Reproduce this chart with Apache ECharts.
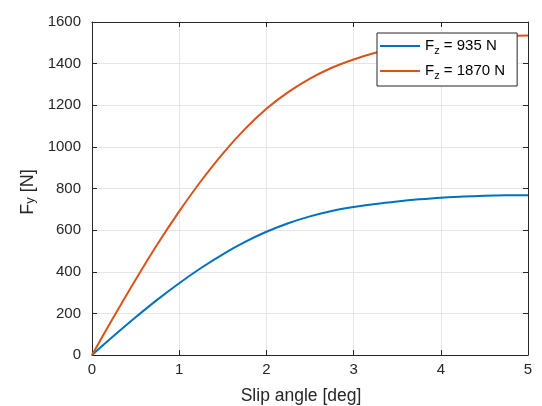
<!DOCTYPE html>
<html>
<head>
<meta charset="utf-8">
<script src="https://cdn.jsdelivr.net/npm/echarts@6/dist/echarts.min.js"></script>
<style>
html,body{margin:0;padding:0;background:#fff;}
#chart{width:542px;height:406px;}
</style>
</head>
<body>
<div id="chart"></div>
<script>
// Slip angle [deg]
var slipAngle = [0, 0.25, 0.5, 0.75, 1.0, 1.25, 1.5, 1.75, 2.0, 2.25, 2.5, 2.75, 3.0, 3.25, 3.5, 3.75, 4.0, 4.25, 4.5, 4.75, 5.0];
// Fy [N] for Fz = 935 N
var fy935 = [0, 92, 181, 266, 345, 418, 484, 542, 592, 633, 666, 692, 711, 726, 738, 748, 756, 761, 765, 767, 768];
// Fy [N] for Fz = 1870 N
var fy1870 = [0, 184, 362, 532, 690, 836, 968, 1084, 1183, 1263, 1328, 1380, 1420, 1452, 1477, 1497, 1512, 1522, 1529, 1533, 1535];
var seriesNames = ['F{sub|z} = 935 N', 'F{sub|z} = 1870 N'];
var xTicks = [0, 1, 2, 3, 4, 5];
var yTicks = [0, 200, 400, 600, 800, 1000, 1200, 1400, 1600];

function pairs(xs, ys) { return xs.map(function (x, i) { return [x, ys[i]]; }); }

var axisColor = '#262626';
var gridColor = '#e5e5e5';
var font = 'Liberation Sans, Arial, Helvetica, sans-serif';

var chart = echarts.init(document.getElementById('chart'), null, {renderer: 'canvas'});

function baseAxis(extra) {
  var a = {
    type: 'value',
    axisLine: {show: true, onZero: false, lineStyle: {color: axisColor, width: 1}},
    axisTick: {show: true, inside: true, length: 5, lineStyle: {color: axisColor, width: 1}},
    splitLine: {show: false},
    axisLabel: {show: false}
  };
  for (var k in extra) a[k] = extra[k];
  return a;
}

var option = {
  animation: false,
  backgroundColor: '#ffffff',
  textStyle: {fontFamily: font},
  grid: {left: 92, right: 14, top: 22, bottom: 51, containLabel: false, outerBoundsMode: 'none'},
  legend: {
    show: true,
    orient: 'vertical',
    left: 377,
    top: 33,
    padding: [3, 12, 5, 3],
    itemGap: 5,
    itemWidth: 40,
    itemHeight: 14,
    backgroundColor: '#ffffff',
    borderColor: axisColor,
    borderWidth: 1,
    borderRadius: 0,
    icon: 'path://M0,0 L40,0 L40,2 L0,2 Z',
    textStyle: {
      fontFamily: font, fontSize: 15, color: '#000000', lineHeight: 20,
      rich: {
        sub: {fontFamily: font, fontSize: 11, color: '#000000', verticalAlign: 'bottom', padding: [9, 0, 0, 0], lineHeight: 11}
      }
    },
    data: seriesNames
  },
  xAxis: [
    baseAxis({
      position: 'bottom',
      min: 0, max: 5, interval: 1,
      name: 'Slip angle [deg]',
      nameLocation: 'middle',
      nameGap: 32,
      nameTextStyle: {fontFamily: font, fontSize: 17.5, color: axisColor, padding: [0, 18, 0, 0]},
      axisLabel: {show: true, margin: 7, fontFamily: font, fontSize: 15, color: axisColor,
        formatter: function (v) { return xTicks.indexOf(v) >= 0 ? String(v) : ''; }},
      splitLine: {show: true, lineStyle: {color: gridColor, width: 1}}
    }),
    baseAxis({position: 'top', min: 0, max: 5, interval: 1})
  ],
  yAxis: [
    baseAxis({
      position: 'left',
      min: 0, max: 1600, interval: 200,
      name: 'F{sub|y} [N]',
      nameLocation: 'middle',
      nameGap: 50,
      nameRotate: 90,
      nameTextStyle: {fontFamily: font, fontSize: 18, color: axisColor, padding: [0, 7, 0, 0],
        rich: {sub: {fontFamily: font, fontSize: 13, color: axisColor, verticalAlign: 'bottom', padding: [10, 0, 0, 0], lineHeight: 13}}},
      axisLabel: {show: true, margin: 11, fontFamily: font, fontSize: 15, color: axisColor,
        formatter: function (v) { return yTicks.indexOf(v) >= 0 ? String(v) : ''; }},
      splitLine: {show: true, lineStyle: {color: gridColor, width: 1}}
    }),
    baseAxis({position: 'right', min: 0, max: 1600, interval: 200})
  ],
  series: [
    {
      name: seriesNames[0], type: 'line', xAxisIndex: 0, yAxisIndex: 0,
      data: pairs(slipAngle, fy935), smooth: 0.3, symbol: 'none', showSymbol: false,
      lineStyle: {color: '#0072BD', width: 2}, itemStyle: {color: '#0072BD'}, z: 3
    },
    {
      name: seriesNames[1], type: 'line', xAxisIndex: 0, yAxisIndex: 0,
      data: pairs(slipAngle, fy1870), smooth: 0.3, symbol: 'none', showSymbol: false,
      lineStyle: {color: '#D95319', width: 2}, itemStyle: {color: '#D95319'}, z: 3
    }
  ]
};
chart.setOption(option);
</script>
</body>
</html>
